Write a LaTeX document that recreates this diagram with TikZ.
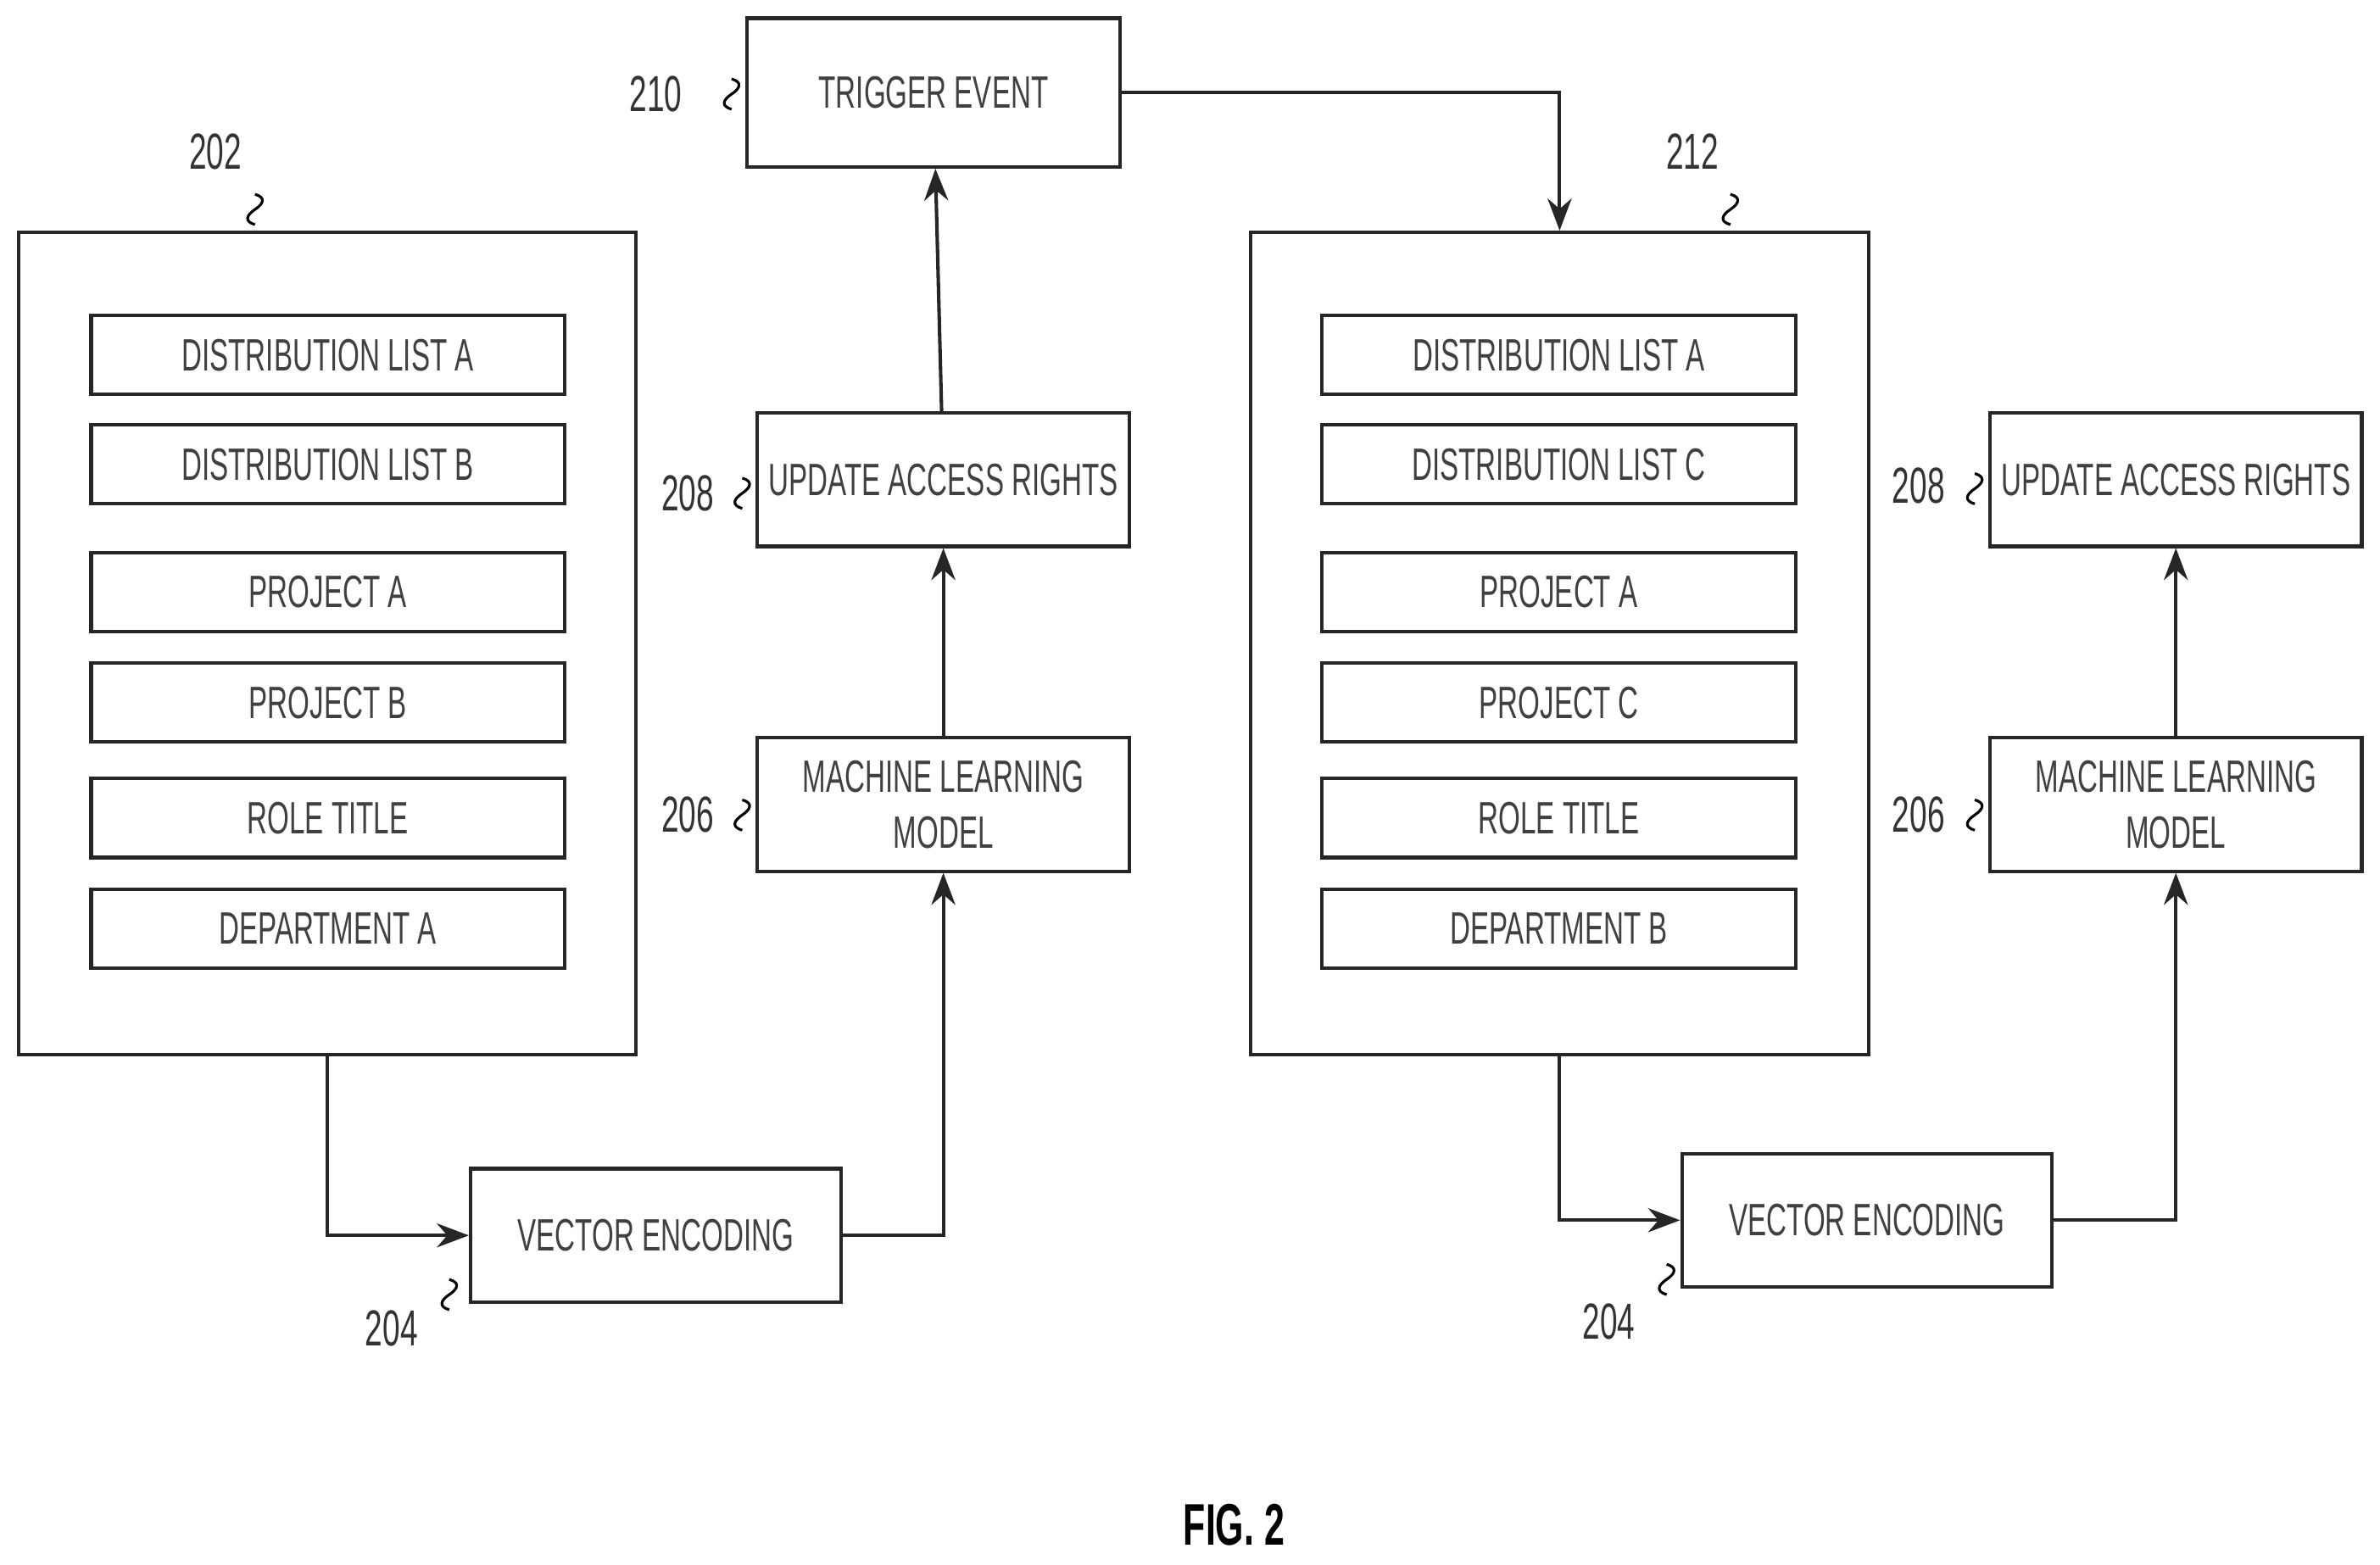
\documentclass[tikz,border=0pt]{standalone}
\usepackage{fontspec}
\setmainfont{Liberation Sans}[FakeStretch=0.62]
\usetikzlibrary{positioning,arrows.meta}

\tikzset{
  box/.style={draw, line width=1.3pt, draw=black!85, minimum width=4.9cm, minimum height=1.76cm,
    align=center, font=\fontsize{17}{21}\selectfont\color{black!75}},
  item/.style={draw, line width=1.3pt, draw=black!85, minimum width=6.24cm, minimum height=1.04cm,
    font=\fontsize{17}{21}\selectfont\color{black!75}},
  frame/.style={draw, line width=1.3pt, draw=black!85, minimum width=8.14cm, minimum height=10.84cm},
  flow/.style={line width=1.3pt, draw=black!85, -{Stealth[length=12pt,width=9pt]}},
  ref/.style={font=\fontsize{19}{22}\selectfont\color{black!80}}
}
\newcommand{\squig}[1]{\draw[line width=1pt] (#1) .. controls +(7,2) and +(6,-4) .. ++(0,10) .. controls +(-6,4) and +(-7,-2) .. ++(0,10);}

\begin{document}
\begin{tikzpicture}[x=0.02cm, y=-0.02cm]
\useasboundingbox (0,0) rectangle (1568,1031);

% left profile
\node[frame] (left) at (215.5,424) {};
\node[item] (la) at (216,234) {DISTRIBUTION LIST A};
\node[item] (lb) at (216,306) {DISTRIBUTION LIST B};
\node[item] (lc) at (216,390) {PROJECT A};
\node[item] (ld) at (216,463) {PROJECT B};
\node[item] (le) at (216,539) {ROLE TITLE};
\node[item] (lf) at (216,612) {DEPARTMENT A};
\node[ref] (l202) at (142,100) {202};
\squig{168,128}

\node[box, minimum width=4.88cm] (lvec) at (432,814) {VECTOR ENCODING};
\node[ref] (l204) at (258,875) {204};
\squig{296,843}
\node[box] (lml) at (621.5,530) {MACHINE LEARNING\\MODEL};
\node[ref] (l206) at (453,537) {206};
\squig{489,527}
\node[box] (lupd) at (621.5,316) {UPDATE ACCESS RIGHTS};
\node[ref] (l208) at (453,325) {208};
\squig{489,315}
\node[box, minimum width=4.92cm, minimum height=1.96cm] (trig) at (615,61) {TRIGGER EVENT};
\node[ref] (l210) at (432,62) {210};
\squig{482,52}

% right profile
\node[frame] (right) at (1027.5,424) {};
\node[item] (ra) at (1027,234) {DISTRIBUTION LIST A};
\node[item] (rb) at (1027,306) {DISTRIBUTION LIST C};
\node[item] (rc) at (1027,390) {PROJECT A};
\node[item] (rd) at (1027,463) {PROJECT C};
\node[item] (re) at (1027,539) {ROLE TITLE};
\node[item] (rf) at (1027,612) {DEPARTMENT B};
\node[ref] (l212) at (1115,100) {212};
\squig{1140,128}

\node[box, minimum width=4.88cm] (rvec) at (1230,804) {VECTOR ENCODING};
\node[ref] (r204) at (1060,871) {204};
\squig{1098,833}
\node[box] (rml) at (1433.5,530) {MACHINE LEARNING\\MODEL};
\node[ref] (r206) at (1264,537) {206};
\squig{1301,527}
\node[box] (rupd) at (1433.5,316) {UPDATE ACCESS RIGHTS};
\node[ref] (r208) at (1264,320) {208};
\squig{1301,312}

\node[font=\fontsize{22}{26}\selectfont\bfseries] (fig) at (813,1005) {FIG. 2};

% connectors
\draw[flow] (left.south) |- (lvec.west);
\draw[flow] (lvec.east) -| (lml.south);
\draw[flow] (lml) -- (lupd);
\draw[flow] (lupd) -- (trig);
\draw[flow] (trig.east) -| (right.north);
\draw[flow] (right.south) |- (rvec.west);
\draw[flow] (rvec.east) -| (rml.south);
\draw[flow] (rml) -- (rupd);
\end{tikzpicture}
\end{document}
